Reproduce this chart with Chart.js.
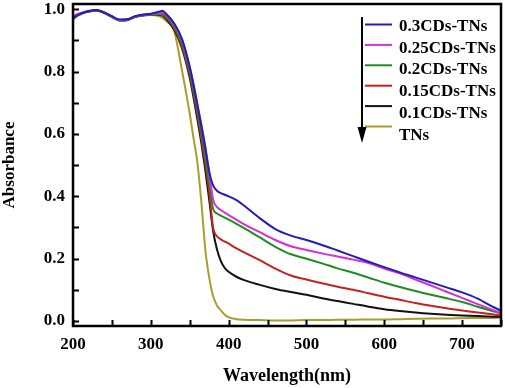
<!DOCTYPE html>
<html>
<head>
<meta charset="utf-8">
<script src="https://cdn.jsdelivr.net/npm/chart.js@4"></script>
<style>
html,body{margin:0;padding:0;background:#fff;}
#c{display:block;}
</style>
</head>
<body>
<canvas id="c" width="505" height="388"></canvas>
<script>
// ---- data ----
const wavelength = [200,205,210,215,220,230,240,250,260,270,280,290,300,310,315,320,330,340,350,355,360,365,370,375,380,385,390,395,400,410,420,440,460,480,500,520,540,560,580,600,620,640,660,680,700,720,740,750];

const cds030 = [0.972,0.98,0.986,0.99,0.994,0.998,0.99,0.978,0.967,0.968,0.978,0.983,0.986,
  0.992,0.995,0.985,0.955,0.905,0.815,0.755,0.69,0.625,0.555,0.48,0.435,0.418,0.41,0.405,0.40,0.388,0.37,0.33,0.295,0.274,0.26,0.244,0.226,0.208,0.19,0.173,0.156,0.14,0.124,0.108,0.092,0.072,0.045,0.033];
const cds025 = [0.978,0.984,0.988,0.992,0.995,0.997,0.99,0.976,0.966,0.967,0.977,0.982,0.985,
  0.988,0.99,0.982,0.952,0.902,0.815,0.76,0.695,0.63,0.56,0.475,0.39,0.366,0.356,0.348,0.34,0.325,0.31,0.285,0.26,0.24,0.228,0.217,0.207,0.197,0.186,0.168,0.153,0.133,0.114,0.094,0.074,0.054,0.035,0.025];
const cds020 = [0.968,0.978,0.985,0.99,0.993,0.996,0.989,0.975,0.963,0.965,0.976,0.98,0.983,
  0.984,0.985,0.976,0.945,0.89,0.80,0.74,0.675,0.605,0.53,0.445,0.36,0.345,0.338,0.332,0.325,0.312,0.298,0.268,0.238,0.214,0.2,0.185,0.169,0.155,0.139,0.123,0.109,0.096,0.084,0.073,0.061,0.046,0.031,0.024];
const cds015 = [0.975,0.982,0.987,0.991,0.994,0.997,0.99,0.977,0.966,0.967,0.977,0.982,0.984,
  0.983,0.982,0.972,0.94,0.882,0.79,0.728,0.66,0.585,0.505,0.415,0.3,0.272,0.262,0.255,0.248,0.233,0.22,0.195,0.168,0.146,0.133,0.121,0.11,0.1,0.089,0.078,0.068,0.058,0.049,0.041,0.034,0.027,0.021,0.018];
const cds010 = [0.97,0.979,0.985,0.99,0.993,0.996,0.989,0.976,0.965,0.966,0.976,0.981,0.983,
  0.982,0.98,0.968,0.935,0.875,0.78,0.715,0.645,0.57,0.485,0.39,0.29,0.23,0.192,0.17,0.158,0.142,0.131,0.116,0.103,0.093,0.084,0.073,0.064,0.055,0.046,0.038,0.032,0.027,0.023,0.02,0.018,0.016,0.014,0.014];
const tns = [0.974,0.981,0.986,0.99,0.993,0.996,0.988,0.975,0.965,0.966,0.975,0.98,0.982,
  0.978,0.972,0.962,0.93,0.805,0.665,0.585,0.505,0.38,0.23,0.14,0.08,0.05,0.034,0.02,0.012,0.006,0.004,0.003,0.002,0.002,0.003,0.003,0.004,0.004,0.005,0.005,0.006,0.007,0.008,0.008,0.009,0.01,0.01,0.011];

const seriesNames = ['0.3CDs-TNs','0.25CDs-TNs','0.2CDs-TNs','0.15CDs-TNs','0.1CDs-TNs','TNs'];
const seriesValues = [cds030, cds025, cds020, cds015, cds010, tns];
const seriesColors = ['#1f1fb8','#d62fd6','#228b22','#c62020','#111111','#a89e2c'];

const xTicks = [200,250,300,350,400,450,500,550,600,650,700,750];
const xLabels = [200,300,400,500,600,700];
const yTicks = [0,0.1,0.2,0.3,0.4,0.5,0.6,0.7,0.8,0.9,1.0];
const yLabels = [0,0.2,0.4,0.6,0.8,1.0];

// ---- chart ----
const FONT = "'Liberation Serif','Times New Roman',serif";

const datasets = seriesNames.map((name, k) => ({
  label: name,
  data: wavelength.map((w, i) => ({x: w, y: seriesValues[k][i]})),
  borderColor: seriesColors[k],
  backgroundColor: seriesColors[k],
  borderWidth: 2,
  pointRadius: 0,
  fill: false,
  cubicInterpolationMode: 'monotone'
}));

const decor = {
  id: 'decor',
  afterDraw(chart) {
    const ctx = chart.ctx;
    const a = chart.chartArea;
    const xs = chart.scales.x, ys = chart.scales.y;
    ctx.save();
    // frame
    ctx.strokeStyle = '#000';
    ctx.lineWidth = 2.5;
    ctx.strokeRect(a.left, a.top, a.right - a.left, a.bottom - a.top);
    // inward tick marks
    ctx.lineWidth = 2;
    ctx.beginPath();
    xTicks.forEach(v => {
      const px = Math.round(xs.getPixelForValue(v)) + 0.5;
      ctx.moveTo(px, a.bottom);
      ctx.lineTo(px, a.bottom - 6);
    });
    yTicks.forEach(v => {
      const py = Math.round(ys.getPixelForValue(v)) + 0.5;
      ctx.moveTo(a.left, py);
      ctx.lineTo(a.left + 6, py);
    });
    ctx.stroke();

    // legend
    const lx0 = 365, lx1 = 392, tx = 399;
    ctx.font = "bold 17px " + FONT;
    ctx.textBaseline = 'middle';
    ctx.textAlign = 'left';
    chart.data.datasets.forEach((ds, i) => {
      const ly = 24.5 + 20.4 * i;
      const ty = 26.5 + 21.8 * i;
      ctx.strokeStyle = ds.borderColor;
      ctx.lineWidth = 2;
      ctx.beginPath();
      ctx.moveTo(lx0, ly);
      ctx.lineTo(lx1, ly);
      ctx.stroke();
      ctx.fillStyle = '#000';
      ctx.fillText(ds.label, tx, ty);
    });
    // arrow
    ctx.strokeStyle = '#000';
    ctx.lineWidth = 2;
    ctx.beginPath();
    ctx.moveTo(362, 17);
    ctx.lineTo(362, 130);
    ctx.stroke();
    ctx.fillStyle = '#000';
    ctx.beginPath();
    ctx.moveTo(357.5, 127);
    ctx.lineTo(366.5, 127);
    ctx.lineTo(362, 143);
    ctx.closePath();
    ctx.fill();
    ctx.restore();
  }
};

new Chart(document.getElementById('c'), {
  type: 'line',
  data: { datasets },
  options: {
    responsive: false,
    animation: false,
    events: [],
    layout: { padding: { top: 4, right: 4, left: 0, bottom: 0 } },
    plugins: { legend: { display: false }, tooltip: { enabled: false } },
    scales: {
      x: {
        type: 'linear',
        min: 200, max: 750,
        afterBuildTicks: s => { s.ticks = xTicks.map(v => ({value: v})); },
        afterFit: s => { s.height = 62; s.paddingLeft = 0; s.paddingRight = 0; },
        grid: { display: false },
        border: { display: false },
        ticks: {
          autoSkip: false, maxRotation: 0, padding: 0,
          color: '#000',
          font: { family: FONT, size: 17, weight: 'bold' },
          callback: v => xLabels.includes(v) ? String(v) : ''
        },
        title: {
          display: true, text: 'Wavelength(nm)', color: '#000',
          font: { family: FONT, size: 18, weight: 'bold' },
          padding: { top: 0, bottom: 1 }
        }
      },
      y: {
        type: 'linear',
        min: -0.016, max: 1.017,
        afterBuildTicks: s => { s.ticks = yTicks.map(v => ({value: v})); },
        afterFit: s => { s.width = 73; s.paddingTop = 0; s.paddingBottom = 0; },
        grid: { display: false },
        border: { display: false },
        ticks: {
          autoSkip: false, padding: 0,
          color: '#000',
          font: { family: FONT, size: 17, weight: 'bold' },
          callback: v => yLabels.some(l => Math.abs(l - v) < 1e-6) ? v.toFixed(1) : ''
        },
        title: {
          display: true, text: 'Absorbance', color: '#000',
          font: { family: FONT, size: 17, weight: 'bold', lineHeight: 1.1 },
          padding: 0
        }
      }
    }
  },
  plugins: [decor]
});
</script>
</body>
</html>
